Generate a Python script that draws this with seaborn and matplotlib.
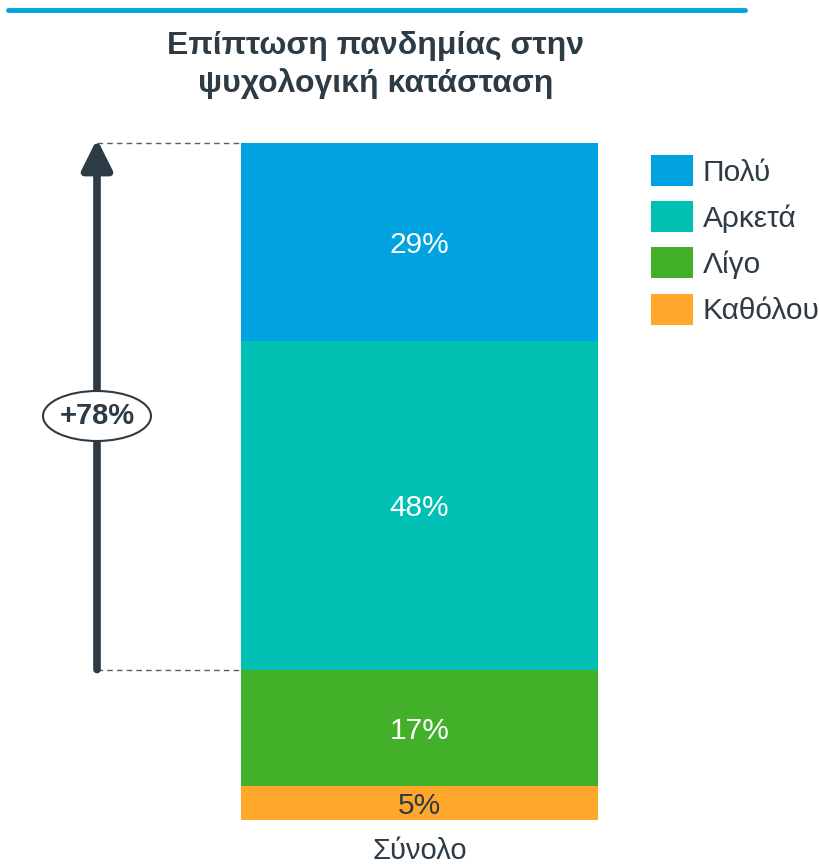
import numpy as np
import matplotlib
matplotlib.use('Agg')
import matplotlib.pyplot as plt
import seaborn as sns
import pandas as pd
from matplotlib.patches import Ellipse

sns.set_style('white')
plt.rcParams['font.family'] = ['Liberation Sans', 'DejaVu Sans']

# data
category = 'Σύνολο'
levels = ['Πολύ', 'Αρκετά', 'Λίγο', 'Καθόλου']
values = [29, 48, 17, 5]
colors = ['#00A3E0', '#00BFB3', '#43B02A', '#FFA72A']
label_colors = ['white', 'white', 'white', '#2D3B45']
title = 'Επίπτωση πανδημίας στην\nψυχολογική κατάσταση'
summary_label = '+78%'

dark = '#2D3B45'
px = 6.838  # pixels per percentage point

# cumulative tops (stack from the bottom: Καθόλου first)
tops = np.cumsum(values[::-1])[::-1]
bottoms = tops - np.array(values)

df = pd.DataFrame({'cat': [category] * len(levels), 'level': levels, 'top': tops})

fig = plt.figure(figsize=(8.2, 8.64), dpi=100)
ax = fig.add_axes([0.0, 44 / 864, 1.0, 101 * px / 864])

sns.barplot(data=df, x='cat', y='top', hue='level', hue_order=levels,
            palette=colors, dodge=False, width=1.0, saturation=1,
            linewidth=0, ax=ax)

ax.set_xlim(-0.5 - 241 / 357, 0.5 + (820 - 598) / 357)
ax.set_ylim(0, 101)
sns.despine(ax=ax, left=True, bottom=True)
ax.set_yticks([])
ax.set_xlabel('')
ax.set_ylabel('')
ax.tick_params(axis='x', length=0, pad=12, labelsize=21, labelcolor=dark)

# segment labels
for v, b, c in zip(values, bottoms, label_colors):
    ax.text(0, b + v / 2 - 3 / px, f'{v}%', ha='center', va='center', fontsize=21.5, color=c)

# arrow showing Πολύ + Αρκετά
x_arrow = -0.5 + (97 - 241) / 357
low, high = bottoms[1], tops[0]
ax.annotate('', xy=(x_arrow, high + 4 / px), xytext=(x_arrow, low),
            arrowprops=dict(arrowstyle='-|>,head_length=0.6,head_width=0.3',
                            lw=5.5, mutation_scale=30, color=dark,
                            shrinkA=0, shrinkB=0))
for yy in (low, high):
    ax.plot([x_arrow, -0.5], [yy, yy], ls=(0, (4, 3)), lw=1, color='#555f66')

yc = (820 - 416) / px
e = Ellipse((x_arrow, yc), 108 / 357, 50 / px, fc='white', ec=dark, lw=1.5, zorder=5)
ax.add_patch(e)
ax.text(x_arrow, yc, summary_label, ha='center', va='center', fontsize=21,
        fontweight='bold', color=dark, zorder=6)

# legend
handles, labels = ax.get_legend_handles_labels()
ax.legend(handles, labels, loc='upper left', bbox_to_anchor=(651 / 820, 1 - 155 / 864),
          bbox_transform=fig.transFigure, frameon=False, fontsize=21.5,
          handlelength=1.4, handleheight=1.22, labelspacing=0.49,
          handletextpad=0.33, borderpad=0, borderaxespad=0, labelcolor=dark)

# title and top rule
fig.text(376 / 820, 1 - 65 / 864, title, ha='center', va='center', fontsize=23,
         fontweight='bold', color=dark, linespacing=1.28)
fig.add_artist(plt.Line2D([8 / 820, 745 / 820], [1 - 10 / 864, 1 - 10 / 864],
                          color='#00A3E0', lw=3.5, transform=fig.transFigure))

fig.savefig('out.png', dpi=100)
